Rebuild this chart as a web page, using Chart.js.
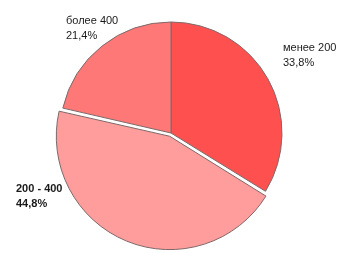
<!DOCTYPE html>
<html>
<head>
<meta charset="utf-8">
<script src="https://cdn.jsdelivr.net/npm/chart.js@4"></script>
<style>
  html, body { margin: 0; padding: 0; background: #fff; }
  #wrap { width: 356px; height: 253px; position: relative; }
</style>
</head>
<body>
<div id="wrap"><canvas id="pie"></canvas></div>
<script>
/* Pie: share by group (менее 200 / 200 - 400 / более 400) */

const CATEGORIES = ['менее 200', '200 - 400', 'более 400'];
const SHARES     = [33.8, 44.8, 21.4];
const PCT_LABELS = ['33,8%', '44,8%', '21,4%'];
const COLORS     = ['#ff5050', '#ff9c9c', '#ff7878'];
const OFFSETS    = [0, 14, 0];
const BOLD       = [false, true, false];

// text anchor (left x, baseline y of first line) per slice
const LABEL_POS = [[283, 51], [16, 192], [66, 24]];

const labelPlugin = {
  id: 'sliceLabels',
  afterDraw(chart) {
    const ctx = chart.ctx;
    ctx.save();
    ctx.fillStyle = '#1a1a1a';
    ctx.textAlign = 'left';
    ctx.textBaseline = 'alphabetic';
    CATEGORIES.forEach((name, i) => {
      const [x, y] = LABEL_POS[i];
      ctx.font = (BOLD[i] ? 'bold 11px' : '11px') + ' "Liberation Sans Narrow", "Liberation Sans", Arial, sans-serif';
      ctx.fillText(name, x, y);
      ctx.fillText(PCT_LABELS[i], x, y + 15);
    });
    ctx.restore();
  }
};

new Chart(document.getElementById('pie'), {
  type: 'pie',
  data: {
    labels: CATEGORIES,
    datasets: [{
      data: SHARES,
      backgroundColor: COLORS,
      borderColor: '#7f6868',
      borderWidth: 1,
      offset: OFFSETS,
      radius: 111,
    }],
  },
  options: {
    responsive: true,
    maintainAspectRatio: false,
    animation: false,
    layout: { padding: { left: 0, right: 14, top: 13, bottom: 0 } },
    plugins: {
      legend: { display: false },
      tooltip: { enabled: false },
    },
  },
  plugins: [labelPlugin],
});
</script>
</body>
</html>
